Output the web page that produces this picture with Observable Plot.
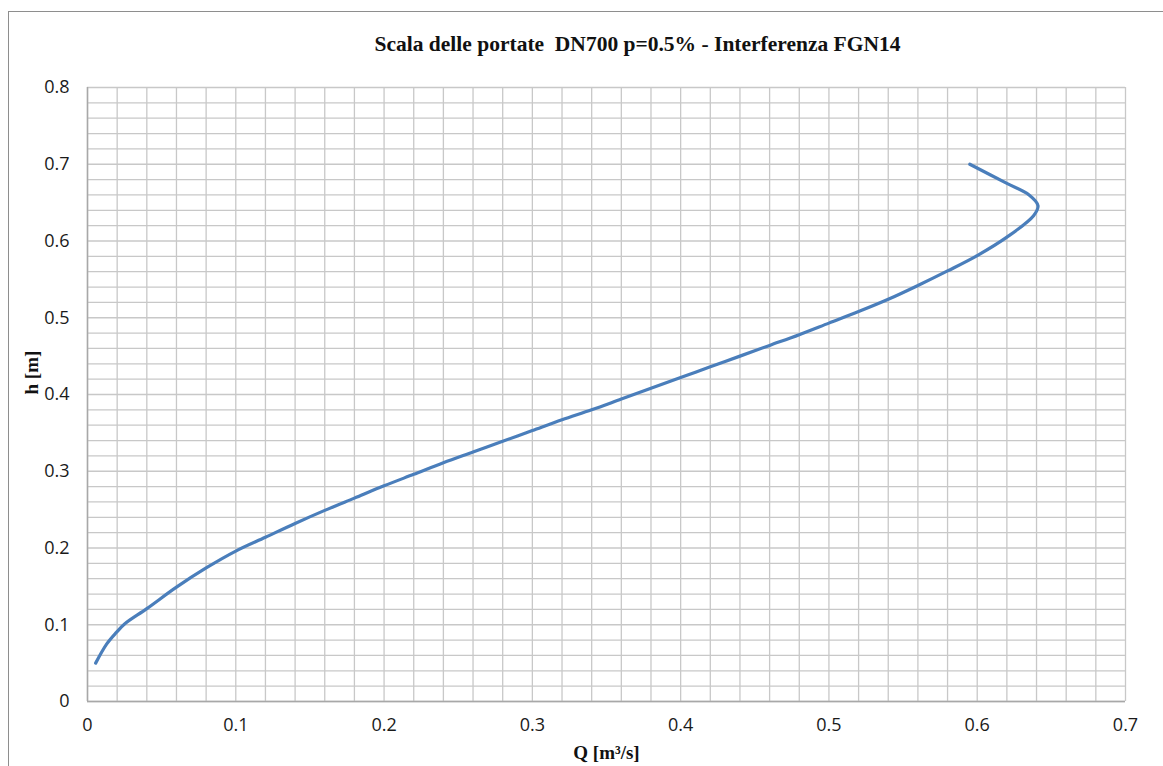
<!DOCTYPE html>
<html>
<head>
<meta charset="utf-8">
<script src="https://cdn.jsdelivr.net/npm/d3@7"></script>
<script src="https://cdn.jsdelivr.net/npm/@observablehq/plot@0.6"></script>
<style>
  html, body { margin: 0; padding: 0; background: #fff; overflow: hidden; width: 1163px; height: 766px; }
  #border { position: absolute; left: 8px; top: 11px; width: 1300px; height: 900px; border: 1.5px solid #8e8e8e; box-sizing: border-box; }
  #chart { position: absolute; left: 0; top: 0; }
</style>
</head>
<body>
<div id="border"></div>
<div id="chart"></div>
<script>
const title = "Scala delle portate  DN700 p=0.5% - Interferenza FGN14";
const xLabel = "Q [m³/s]";
const yLabel = "h [m]";
const xTicks = [0, 0.1, 0.2, 0.3, 0.4, 0.5, 0.6, 0.7];
const yTicks = [0, 0.1, 0.2, 0.3, 0.4, 0.5, 0.6, 0.7, 0.8];

// water depth h [m] and discharge Q [m3/s]
const hValues = [0.050, 0.075, 0.090, 0.101, 0.121, 0.149, 0.174, 0.196, 0.214, 0.232,
                 0.249, 0.265, 0.281, 0.296, 0.311, 0.325, 0.339, 0.353, 0.367, 0.380,
                 0.394, 0.408, 0.422, 0.436, 0.450, 0.464, 0.478, 0.493, 0.508, 0.524,
                 0.542, 0.561, 0.581, 0.605, 0.633, 0.646, 0.660, 0.675, 0.700];
const qValues = [0.0055, 0.013, 0.0195, 0.025, 0.040, 0.060, 0.080, 0.100, 0.120, 0.140,
                 0.160, 0.180, 0.200, 0.220, 0.240, 0.260, 0.280, 0.300, 0.320, 0.340,
                 0.360, 0.380, 0.400, 0.420, 0.440, 0.460, 0.480, 0.500, 0.520, 0.540,
                 0.560, 0.580, 0.600, 0.620, 0.638, 0.641, 0.635, 0.620, 0.595];

const data = hValues.map((h, i) => ({h, Q: qValues[i]}));
const gridX = d3.range(0, 0.7001, 0.02);
const gridY = d3.range(0, 0.8001, 0.02);

const serif = "'Liberation Serif', 'Times New Roman', serif";
const sans = "'Open Sans', sans-serif";
const fmt = d => d3.format("~g")(d);

const chart = Plot.plot({
  width: 1163,
  height: 766,
  marginLeft: 87,
  marginRight: 38,
  marginTop: 87,
  marginBottom: 65,
  style: { fontFamily: sans, background: "transparent" },
  x: { domain: [0, 0.7], label: null },
  y: { domain: [0, 0.8], label: null },
  marks: [
    Plot.ruleX(gridX, { stroke: "#c8c8c8", strokeWidth: 1.3 }),
    Plot.ruleY(gridY, { stroke: "#c8c8c8", strokeWidth: 1.3 }),
    Plot.ruleX([0], { stroke: "#a8a8a8", strokeWidth: 1.5 }),
    Plot.ruleY([0], { stroke: "#a8a8a8", strokeWidth: 1.5 }),
    Plot.axisX({ ticks: xTicks, tickSize: 0, tickPadding: 17, label: null, tickFormat: fmt, fontSize: 18, fill: "#1a1a1a", fontFamily: sans }),
    Plot.axisY({ ticks: yTicks, tickSize: 0, tickPadding: 18, label: null, tickFormat: fmt, fontSize: 18, fill: "#1a1a1a", fontFamily: sans }),
    Plot.line(data, { x: "Q", y: "h", curve: "catmull-rom", stroke: "#4a7ebb", strokeWidth: 3.2 }),
    Plot.text([title], { frameAnchor: "top", dy: -52, dx: 31, fontFamily: serif, fontWeight: "bold", fontSize: 21.5, fill: "#111" }),
    Plot.text([xLabel], { frameAnchor: "bottom", dy: 57, fontFamily: serif, fontWeight: "bold", fontSize: 19, fill: "#111" }),
    Plot.text([yLabel], { frameAnchor: "left", dx: -56, rotate: -90, fontFamily: serif, fontWeight: "bold", fontSize: 19, fill: "#111" })
  ]
});
document.getElementById("chart").appendChild(chart);
</script>
</body>
</html>
